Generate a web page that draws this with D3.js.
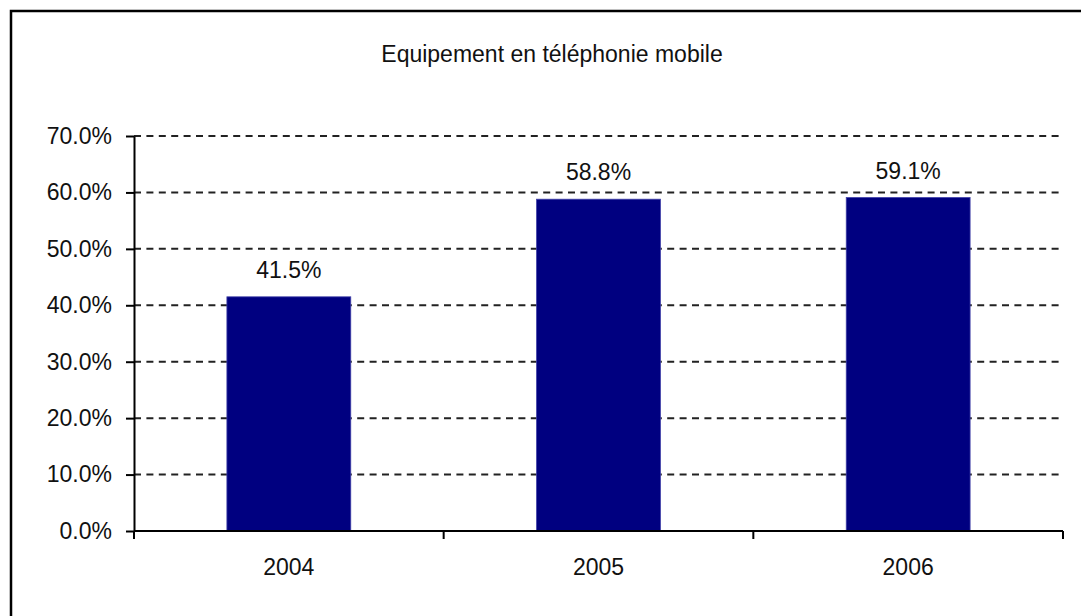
<!DOCTYPE html>
<html>
<head>
<meta charset="utf-8">
<script src="https://cdn.jsdelivr.net/npm/d3@7"></script>
<style>
  html, body { margin: 0; padding: 0; background: #fff; }
  svg { display: block; }
  text { font-family: "Liberation Sans", Arial, sans-serif; fill: #111; }
</style>
</head>
<body>
<svg id="chart" width="1081" height="616"></svg>
<script>
const title = "Equipement en téléphonie mobile";
const categories = ["2004", "2005", "2006"];
const values = [41.5, 58.8, 59.1];
const labels = ["41.5%", "58.8%", "59.1%"];
const yTicks = [0, 10, 20, 30, 40, 50, 60, 70];

(function () {
const svg = d3.select("#chart");
const W = 1081, H = 616;
const pLeft = 134, pRight = 1063, pTop = 136, pBottom = 531;
const fontSize = 23;

svg.append("rect").attr("x", 0).attr("y", 0).attr("width", W).attr("height", H).attr("fill", "#fff");
// outer frame (extends beyond the picture on right/bottom)
svg.append("rect").attr("x", 11).attr("y", 11).attr("width", W + 20).attr("height", H + 20)
  .attr("fill", "none").attr("stroke", "#000").attr("stroke-width", 2.5);

const x = d3.scaleBand().domain(categories).range([pLeft, pRight]).paddingInner(0.6).paddingOuter(0.3);
const y = d3.scaleLinear().domain([0, 70]).range([pBottom, pTop]);

// gridlines
svg.append("g").selectAll("line").data(yTicks.filter(d => d > 0)).join("line")
  .attr("x1", pLeft).attr("x2", pRight)
  .attr("y1", d => y(d)).attr("y2", d => y(d))
  .attr("stroke", "#222").attr("stroke-width", 2)
  .attr("stroke-dasharray", "7,5.4");

// bars
svg.append("g").selectAll("rect").data(values).join("rect")
  .attr("x", (d, i) => x(categories[i]))
  .attr("width", x.bandwidth())
  .attr("y", d => y(d))
  .attr("height", d => y(0) - y(d))
  .attr("fill", "#000080")
  .attr("stroke", "#4040a8").attr("stroke-width", 0.8);

// value labels
svg.append("g").selectAll("text").data(values).join("text")
  .attr("x", (d, i) => x(categories[i]) + x.bandwidth() / 2)
  .attr("y", d => y(d) - 19)
  .attr("text-anchor", "middle")
  .attr("font-size", fontSize)
  .text((d, i) => labels[i]);

// y axis
const yAxis = d3.axisLeft(y).tickValues(yTicks).tickFormat(d => d3.format(".1f")(d) + "%")
  .tickSizeInner(8).tickSizeOuter(0).tickPadding(14);
const gy = svg.append("g").attr("transform", `translate(${pLeft},0)`).call(yAxis);
gy.select(".domain").attr("stroke", "#000").attr("stroke-width", 2);
gy.selectAll(".tick line").attr("stroke", "#000").attr("stroke-width", 2);
gy.selectAll(".tick text").attr("font-size", fontSize).attr("font-family", "Liberation Sans, Arial, sans-serif").attr("fill", "#111");

// x axis: category boundary ticks
const xAxisG = svg.append("g");
xAxisG.append("line").attr("x1", pLeft).attr("x2", pRight).attr("y1", pBottom).attr("y2", pBottom)
  .attr("stroke", "#000").attr("stroke-width", 2);
const step = x.step();
const boundaries = d3.range(categories.length + 1).map(i => pLeft + i * step);
xAxisG.selectAll("line.tk").data(boundaries).join("line").attr("class", "tk")
  .attr("x1", d => d).attr("x2", d => d).attr("y1", pBottom).attr("y2", pBottom + 8)
  .attr("stroke", "#000").attr("stroke-width", 2);
xAxisG.selectAll("text").data(categories).join("text")
  .attr("x", d => x(d) + x.bandwidth() / 2)
  .attr("y", 575)
  .attr("text-anchor", "middle")
  .attr("font-size", fontSize)
  .text(d => d);

// title
svg.append("text").attr("x", 552).attr("y", 62).attr("text-anchor", "middle")
  .attr("font-size", fontSize).text(title);
})();
</script>
</body>
</html>
